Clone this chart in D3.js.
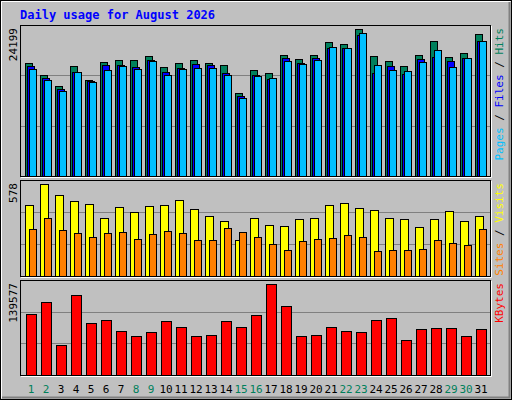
<!DOCTYPE html>
<html>
<head>
<meta charset="utf-8">
<style>
  body { margin: 0; background: #fff; }
  text { font-family: "DejaVu Sans Mono", monospace; }
</style>
</head>
<body>
<script src="https://cdn.jsdelivr.net/npm/d3@7/dist/d3.min.js"></script>
<script>
var days = d3.range(1, 32);
var weekends = [1, 2, 8, 9, 15, 16, 22, 23, 29, 30];

var hits   = [18600,16625,14815,18110,15800,18765,19095,19095,19755,17940,18600,19095,18600,18270,13660,17450,
              16955,19915,19260,19915,22055,21725,24199,19755,18930,18110,19915,22220,19590,20245,23375];
var files  = [18110,16130,14320,17120,15640,18270,18270,17940,19095,17120,17780,18435,18270,16955,13170,16625,
              15965,19420,18600,19420,21070,21070,23210,16955,18110,16790,19260,19590,18930,19420,22220];
var pages  = [17610,15800,13990,17120,15470,17450,18105,17610,18930,16625,17610,17780,17780,16625,12840,16460,
              16130,18930,18435,19095,21235,21070,23540,18270,17450,17280,18765,20740,17940,19420,22220];
var visits = [446,578,509,471,452,364,434,402,440,446,477,421,377,346,226,364,
              320,314,358,364,446,459,427,415,364,358,308,358,408,346,377];
var sites  = [295,364,289,270,245,270,276,232,264,283,270,226,226,302,276,245,
              201,163,220,232,239,258,245,157,163,163,170,226,207,195,295];
var kbytes = [93560,111970,46010,122700,79760,84360,67490,59820,65950,82825,73620,59820,61350,82825,73620,92030,
              139577,105830,59820,61350,73620,67490,65950,84360,87430,53680,70555,72090,72090,59820,70555];

var W = 512, H = 400;
var svg = d3.select("body").append("svg").attr("width", W).attr("height", H);

// background and outer bevel
svg.append("rect").attr("width", W).attr("height", H).attr("fill", "#c0c0c0");
svg.append("rect").attr("x", 0.5).attr("y", 0.5).attr("width", W - 1).attr("height", H - 1)
  .attr("fill", "none").attr("stroke", "#000");
svg.append("path").attr("d", "M1.5,398.5V1.5H510.5").attr("stroke", "#fff").attr("fill", "none");
svg.append("path").attr("d", "M2,397.5H509.5V2").attr("stroke", "#808080").attr("stroke-width", 2).attr("fill", "none");

svg.append("text").attr("x", 20).attr("y", 19).text("Daily usage for August 2026")
  .attr("fill", "#0000ff").style("font-size", "12px").style("font-weight", "bold");

var x = d3.scaleLinear().domain([1, 31]).range([25, 475]);
var left = 20, right = 490;

function panel(top, bottom, max, label) {
  var g = svg.append("g");
  g.append("rect").attr("x", left + 0.5).attr("y", top + 0.5)
    .attr("width", right - left).attr("height", bottom - top)
    .attr("fill", "#c0c0c0").attr("stroke", "#000");
  g.append("path").attr("d", "M" + (right + 1.5) + "," + (top + 1) + "V" + (bottom + 1.5) + "H" + (left + 1))
    .attr("stroke", "#fff").attr("fill", "none");
  var h = bottom - top;
  [1, 2].forEach(function(k) {
    var yy = Math.round(bottom - h * k / 3) + 0.5;
    g.append("line").attr("x1", left + 1).attr("x2", right).attr("y1", yy).attr("y2", yy)
      .attr("stroke", "#808080");
  });
  g.append("text").attr("transform", "translate(17," + (top + 3) + ") rotate(-90)")
    .attr("text-anchor", "end").text(max).attr("fill", "#000").style("font-size", "11px");
  var t = g.append("text").attr("transform", "translate(503," + (top + 3) + ") rotate(-90)")
    .attr("text-anchor", "end").style("font-size", "11px");
  label.forEach(function(p) { t.append("tspan").attr("fill", p[1]).text(p[0]); });
  return g;
}

function bars(g, data, y, dx, w, color) {
  g.selectAll(null).data(data).enter().append("rect")
    .attr("x", function(d, i) { return x(days[i]) + dx + 0.5; })
    .attr("y", function(d) { return Math.round(y(d)) + 0.5; })
    .attr("width", w)
    .attr("height", function(d) { return Math.round(y(0) - y(d)); })
    .attr("fill", color).attr("stroke", "#000");
}

// top: hits / files / pages
var p1 = panel(25, 176, 24199, [["Pages", "#00c0ff"], [" / ", "#000"], ["Files", "#0000ff"], [" / ", "#000"], ["Hits", "#00805c"]]);
var y1 = d3.scaleLinear().domain([0, 24199]).range([176, 29]);
bars(p1, hits, y1, 0, 7, "#00805c");
bars(p1, files, y1, 2, 7, "#0000ff");
bars(p1, pages, y1, 4, 7, "#00c0ff");

// middle: visits / sites
var p2 = panel(180, 276, 578, [["Sites", "#ff8000"], [" / ", "#000"], ["Visits", "#ffff00"]]);
var y2 = d3.scaleLinear().domain([0, 578]).range([276, 184]);
bars(p2, visits, y2, 0, 8, "#ffff00");
bars(p2, sites, y2, 4, 7, "#ff8000");

// bottom: kbytes
var p3 = panel(280, 375, 139577, [["KBytes", "#ff0000"]]);
var y3 = d3.scaleLinear().domain([0, 139577]).range([375, 284]);
bars(p3, kbytes, y3, 1, 10, "#ff0000");

// day labels
svg.selectAll(".day").data(days).enter().append("text")
  .attr("x", function(d) { return x(d) + 6; }).attr("y", 393)
  .attr("text-anchor", "middle").style("font-size", "11px")
  .attr("fill", function(d) { return weekends.indexOf(d) >= 0 ? "#00805c" : "#000"; })
  .text(function(d) { return d; });
</script>
</body>
</html>
